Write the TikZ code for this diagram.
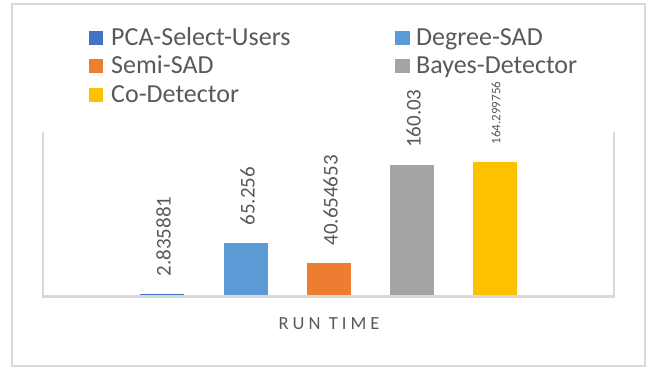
\documentclass[tikz,border=0pt]{standalone}
\usepackage{fontspec}
\setmainfont{Carlito}
\newfontfamily\axisfont[LetterSpace=22]{Carlito}

\definecolor{pcablue}{HTML}{4472C4}
\definecolor{degreeblue}{HTML}{5B9BD5}
\definecolor{semiorange}{HTML}{ED7D31}
\definecolor{bayesgray}{HTML}{A5A5A5}
\definecolor{coyellow}{HTML}{FFC000}
\definecolor{textgray}{HTML}{595959}
\definecolor{linegray}{HTML}{D9D9D9}

\begin{document}
\begin{tikzpicture}[x=1pt, y=1pt,
    legendtext/.style={anchor=base west, inner sep=0pt, text=textgray, font=\fontsize{26}{30}\selectfont},
    valuetext/.style={rotate=90, anchor=west, inner sep=0pt, text=textgray, font=\fontsize{21}{24}\selectfont}]
    \useasboundingbox (0,0) rectangle (653,368);

    % Frame
    \draw[linegray, line width=1.6pt] (12,2) rectangle (645,364);

    % Plot area
    \draw[linegray, line width=1.2pt] (43,236) -- (43,71);
    \draw[linegray, line width=1.2pt] (614,236) -- (614,71);

    % Bars
    \fill[pcablue] (140,72) rectangle (184,{72+2.835881*0.818});
    \fill[degreeblue] (224,72) rectangle (268,{72+65.256*0.818});
    \fill[semiorange] (307,72) rectangle (351,{72+40.654653*0.818});
    \fill[bayesgray] (390,72) rectangle (434,{72+160.03*0.818});
    \fill[coyellow] (473,72) rectangle (517,{72+164.299756*0.818});

    % Axis
    \draw[linegray, line width=2.6pt] (42.4,71.5) -- (614.6,71.5);

    % Values
    \node[valuetext] (val1) at (163.5,{89+2.835881*0.818}) {2.835881};
    \node[valuetext] (val2) at (247.5,{89+65.256*0.818}) {65.256};
    \node[valuetext] (val3) at (330.5,{89+40.654653*0.818}) {40.654653};
    \node[valuetext] (val4) at (413.5,{89+160.03*0.818}) {160.03};
    \node[valuetext, font=\fontsize{13}{15}\selectfont] (val5) at (496,{89+164.299756*0.818}) {164.299756};

    % Legend
    \fill[pcablue] (88.5,323) rectangle (103,337.5);
    \node[legendtext] (leg1) at (111,323) {PCA-Select-Users};
    \fill[semiorange] (88.5,294.8) rectangle (103,309.3);
    \node[legendtext] (leg3) at (111,294.8) {Semi-SAD};
    \fill[coyellow] (88.5,266) rectangle (103,280.5);
    \node[legendtext] (leg5) at (111,266) {Co-Detector};
    \fill[degreeblue] (395,323) rectangle (409.5,337.5);
    \node[legendtext] (leg2) at (416,323) {Degree-SAD};
    \fill[bayesgray] (395,294.8) rectangle (409.5,309.3);
    \node[legendtext] (leg4) at (416,294.8) {Bayes-Detector};

    % Axis title
    \node[anchor=base, inner sep=0pt, text=textgray, font=\axisfont\fontsize{18.5}{20}\selectfont] (title) at (329,39) {RUN TIME};
\end{tikzpicture}
\end{document}
